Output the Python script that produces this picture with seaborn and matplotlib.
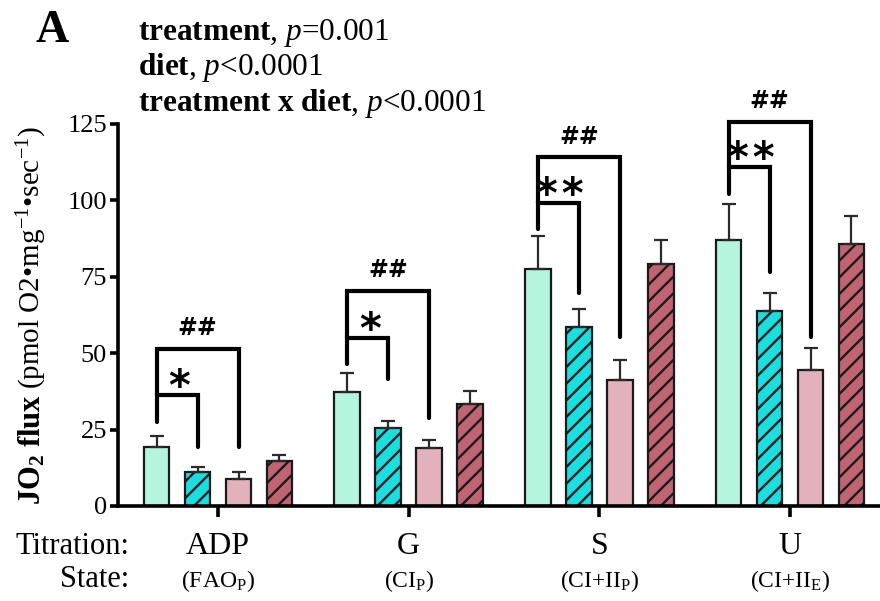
import numpy as np
import pandas as pd
import matplotlib
matplotlib.use("Agg")
import matplotlib.pyplot as plt
import seaborn as sns
from matplotlib.transforms import blended_transform_factory

# ---------------- data ----------------
titrations = ["ADP", "G", "S", "U"]
states = [r"(FAO$_\mathrm{P}$)", r"(CI$_\mathrm{P}$)", r"(CI+II$_\mathrm{P}$)", r"(CI+II$_\mathrm{E}$)"]
groups = ["Control", "Treatment", "Control + diet", "Treatment + diet"]

means_g1 = [19.3, 37.2, 77.7, 87.0]
means_g2 = [11.1, 25.6, 58.5, 63.9]
means_g3 = [8.9, 19.0, 41.2, 44.5]
means_g4 = [14.8, 33.4, 79.3, 85.7]
err_g1 = [3.7, 6.4, 10.6, 11.7]
err_g2 = [1.7, 2.3, 5.9, 5.9]
err_g3 = [2.3, 2.7, 6.6, 7.1]
err_g4 = [1.9, 4.3, 7.6, 9.3]

colors = ["#b5f5de", "#19dfe0", "#e2b1bb", "#c06472"]
hatches = ["", "//", "", "//"]

inner_labels = ["*", "*", "**", "**"]
outer_labels = ["##", "##", "##", "##"]
left_leg_bottom = [27.6, 46.4, 90.5, 102.0]
inner_top = [36.4, 54.9, 99.0, 110.8]
inner_right_bottom = [19.4, 41.5, 69.8, 76.5]
outer_top = [51.5, 70.5, 114.2, 125.8]
outer_right_bottom = [19.4, 28.7, 55.2, 55.4]

yticks = [0, 25, 50, 75, 100, 125]

stat_lines = [
    r"$\mathbf{treatment}$, $p$=0.001",
    r"$\mathbf{diet}$, $p$<0.0001",
    r"$\mathbf{treatment\ x\ diet}$, $p$<0.0001",
]

# ---------------- style ----------------
sns.set_style("ticks")
plt.rcParams["font.family"] = ["Liberation Serif", "DejaVu Serif"]
plt.rcParams["mathtext.fontset"] = "custom"
plt.rcParams["mathtext.rm"] = "Liberation Serif"
plt.rcParams["mathtext.it"] = "Liberation Serif:italic"
plt.rcParams["mathtext.bf"] = "Liberation Serif:bold"
plt.rcParams["hatch.linewidth"] = 1.7
plt.rcParams["axes.linewidth"] = 2.6
for key in ["text.color", "axes.edgecolor", "axes.labelcolor", "xtick.color", "ytick.color"]:
    plt.rcParams[key] = "black"

means = [means_g1, means_g2, means_g3, means_g4]
errs = [err_g1, err_g2, err_g3, err_g4]
df = pd.DataFrame({
    "titration": np.repeat([titrations], 4, axis=0).ravel(),
    "group": np.repeat(groups, 4),
    "value": np.concatenate(means),
})

fig = plt.figure(figsize=(8.8, 6.01), dpi=100)
ax = fig.add_axes([118 / 880, 1 - 506 / 601, 762 / 880, 382 / 601])

sns.barplot(data=df, x="titration", y="value", hue="group", order=titrations,
            hue_order=groups, palette=colors, width=0.86, gap=0.367,
            edgecolor="#1a1a1a", linewidth=1.6, saturation=1, errorbar=None,
            legend=False, ax=ax)

bar_containers = list(ax.containers)
centers = []
for i, cont in enumerate(bar_containers):
    cx = []
    for j, bar in enumerate(cont.patches):
        bar.set_hatch(hatches[i])
        x = bar.get_x() + bar.get_width() / 2
        cx.append(x)
        ax.errorbar(x, bar.get_height(), yerr=[[0], [errs[i][j]]], fmt="none",
                    ecolor="#2a2a2a", elinewidth=1.6, capsize=4.8, capthick=1.6,
                    zorder=1)
    centers.append(cx)

# significance brackets
blw = 3.0
for j in range(len(titrations)):
    x0, x1, x2 = centers[0][j], centers[1][j], centers[2][j]
    ax.plot([x0, x0, x1, x1], [left_leg_bottom[j], inner_top[j], inner_top[j], inner_right_bottom[j]],
            color="black", lw=blw, clip_on=False, solid_joinstyle="miter", zorder=5)
    ax.plot([x0, x0, x2, x2], [inner_top[j], outer_top[j], outer_top[j], outer_right_bottom[j]],
            color="black", lw=blw, clip_on=False, solid_joinstyle="miter", zorder=5)
    star = "\u200a".join(inner_labels[j])
    ax.text((x0 + x1) / 2 + 0.01, inner_top[j] - 1.6, star, ha="center", va="baseline",
            fontsize=30, fontweight="bold", family="DejaVu Sans", clip_on=False)
    ax.text((x0 + x2) / 2, outer_top[j] + 4.3, outer_labels[j], ha="center", va="baseline",
            fontsize=17, fontweight="bold", family="DejaVu Sans", clip_on=False)

ax.set_xlim(-0.5245, 3.472)
ax.set_ylim(0, 125)
ax.set_yticks(yticks)
ax.set_yticklabels([str(t) for t in yticks], fontsize=19)
ax.set_xticks(range(len(titrations)))
ax.set_xticklabels([])
ax.tick_params(axis="y", length=6, width=2.6, pad=2)
ax.tick_params(axis="x", length=8, width=2.6)
ax.set_xlabel("")
ax.set_ylabel("")
sns.despine(ax=ax)

# category labels
tr = blended_transform_factory(ax.transData, fig.transFigure)
for j, (t, s) in enumerate(zip(titrations, states)):
    ax.text(j, 1 - 554 / 601, t, transform=tr, ha="center", va="baseline", fontsize=23)
    ax.text(j, 1 - 587 / 601, s, transform=tr, ha="center", va="baseline", fontsize=17)
fig.text(129 / 880, 1 - 554 / 601, "Titration:", ha="right", va="baseline", fontsize=22)
fig.text(129 / 880, 1 - 587 / 601, "State:", ha="right", va="baseline", fontsize=22)

# panel label and stats
fig.text(35 / 880, 1 - 42 / 601, "A", ha="left", va="baseline", fontsize=33, fontweight="bold")
for k, line in enumerate(stat_lines):
    fig.text(138 / 880, 1 - (40 + 35.5 * k) / 601, line, ha="left", va="baseline", fontsize=22.5)

# y label in two pieces
t1 = fig.text(40 / 880, 1 - 505 / 601, r"JO$_\mathbf{2}$ flux", rotation=90, rotation_mode="anchor",
              ha="left", va="baseline", fontsize=22, fontweight="bold")
fig.canvas.draw()
bb = t1.get_window_extent(renderer=fig.canvas.get_renderer())
fig.text(40 / 880, (bb.y1 + 5) / fig.bbox.height,
         r"(pmol O2•mg$^{-1}$•sec$^{-1}$)", rotation=90, rotation_mode="anchor",
         ha="left", va="baseline", fontsize=21)

fig.savefig("out.png", dpi=100)
